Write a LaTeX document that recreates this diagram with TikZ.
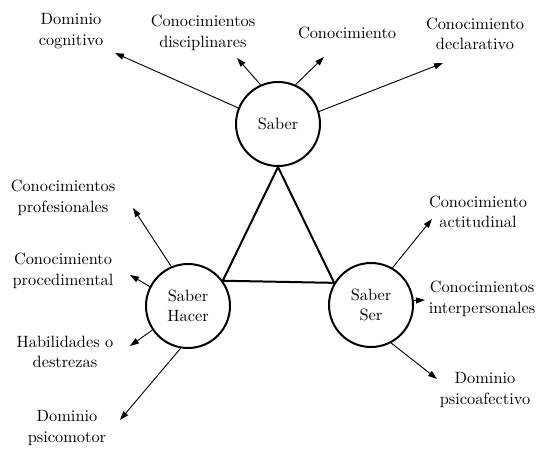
\documentclass[tikz,border=0pt]{standalone}
\usetikzlibrary{arrows.meta}
\tikzset{
	saber/.style={circle, draw, line width=1.2pt, minimum size=50.4pt, inner sep=0pt, align=center, font=\fontsize{9.8}{12.3}\selectfont},
	etiqueta/.style={align=center, inner sep=0pt, font=\fontsize{9.8}{12.3}\selectfont},
	flecha/.style={line width=0.55pt, -{Triangle[length=5.4pt,width=3.6pt]}},
	lado/.style={line width=1.2pt, line join=miter}
}
\begin{document}
\begin{tikzpicture}[x=0.6pt, y=-0.6pt]
			%%%%% START %%%%%
			\useasboundingbox (0, 0) rectangle (536, 448);
			
			\node[saber] (sb) at (278, 124) {Saber};
			\node[saber] (sh) at (188, 306) {Saber\\Hacer};
			\node[saber] (ss) at (371, 305) {Saber\\Ser};
			
			\draw[lado] (sb.south) -- (sh.36) -- (ss.149) -- cycle;
			
			% Saber
			\node[etiqueta] (dcog) at (71, 31) {Dominio\\cognitivo};
			\node[etiqueta] (cdis) at (203, 33) {Conocimientos\\disciplinares};
			\node[etiqueta] (cono) at (347, 33) {Conocimiento};
			\node[etiqueta] (cdec) at (475, 34) {Conocimiento\\declarativo};
			
			\coordinate (p1) at (115, 53);
			\coordinate (p2) at (237, 58);
			\coordinate (p3) at (324, 57);
			\coordinate (p4) at (443, 63);
			\draw[flecha] (sb.158) -- (p1);
			\draw[flecha] (sb.114) -- (p2);
			\draw[flecha] (sb.66) -- (p3);
			\draw[flecha] (sb.17) -- (p4);
			
			% Saber Hacer
			\node[etiqueta] (cprof) at (63, 198) {Conocimientos\\profesionales};
			\node[etiqueta] (cproc) at (63, 271) {Conocimiento\\procedimental};
			\node[etiqueta] (habi) at (65, 352) {Habilidades o\\destrezas};
			\node[etiqueta] (dpsm) at (67, 428) {Dominio\\psicomotor};
			
			\coordinate (h1) at (133, 208);
			\coordinate (h2) at (130, 275);
			\coordinate (h3) at (130, 346);
			\coordinate (h4) at (120, 420);
			\draw[flecha] (sh.113) -- (h1);
			\draw[flecha] (sh.153) -- (h2);
			\draw[flecha] (sh.214) -- (h3);
			\draw[flecha] (sh.260) -- (h4);
			
			% Saber Ser
			\node[etiqueta] (cact) at (478, 212) {Conocimiento\\actitudinal};
			\node[etiqueta] (cint) at (482, 299) {Conocimientos\\interpersonales};
			\node[etiqueta] (dpsa) at (485, 390) {Dominio\\psicoafectivo};
			
			\coordinate (s1) at (432, 219);
			\coordinate (s2) at (425, 300);
			\coordinate (s3) at (437, 379);
			\draw[flecha] (ss.60) -- (s1);
			\draw[flecha] (ss.6) -- (s2);
			\draw[flecha] (ss.298) -- (s3);
			
			%%%%% END %%%%%
\end{tikzpicture}
\end{document}
